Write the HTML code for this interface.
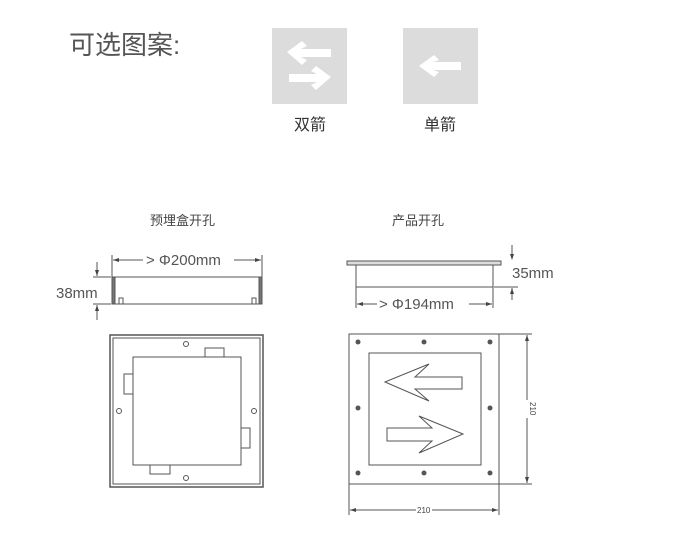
<!DOCTYPE html>
<html><head><meta charset="utf-8"><style>
body{margin:0;background:#fff;}
svg{display:block;font-family:"Liberation Sans","Noto Sans CJK SC",sans-serif;}
</style></head><body>
<svg width="683" height="557" viewBox="0 0 683 557">
<text x="69" y="54" font-size="26" fill="#555">可选图案:</text>
<rect x="272" y="28" width="75" height="76" fill="#dcdcdc"/>
<rect x="403" y="28" width="75" height="76" fill="#dcdcdc"/>
<g fill="#fff">
<polygon points="287,52 302,41 307,46 301,49 331,49 331,57 301,57 307,60 302,65"/>
<polygon points="331,77 316,66 311,71 317,74 289,74 289,82 317,82 311,85 316,90"/>
<polygon points="419,66 434,55 439,60 433,62 461,62 461,70 433,70 439,72 434,77"/>
</g>
<text x="294" y="130" font-size="16" fill="#333">双箭</text>
<text x="424" y="130" font-size="16" fill="#333">单箭</text>
<text x="150" y="225" font-size="13" fill="#444">预埋盒开孔</text>
<text x="392" y="225" font-size="13" fill="#444">产品开孔</text>
<g stroke="#555" fill="none" stroke-width="1">
<line x1="112" y1="255" x2="112" y2="277"/><line x1="262" y1="255" x2="262" y2="277"/>
<line x1="113" y1="260" x2="143" y2="260"/><line x1="234" y1="260" x2="261" y2="260"/>
<line x1="112" y1="277" x2="262" y2="277"/>
<line x1="112" y1="304" x2="262" y2="304"/>
<rect x="112" y="277" width="3" height="27" fill="#777"/>
<rect x="259" y="277" width="3" height="27" fill="#777"/>
<rect x="119" y="298" width="4" height="6"/><rect x="252" y="298" width="4" height="6"/>
<line x1="93" y1="277" x2="111" y2="277"/><line x1="93" y1="304" x2="111" y2="304"/>
<line x1="97" y1="262" x2="97" y2="276"/><line x1="97" y1="305" x2="97" y2="320"/>
<rect x="110" y="335" width="153" height="152" stroke-width="1.5"/>
<rect x="113" y="338" width="147" height="146"/>
<rect x="133" y="357" width="108" height="108"/>
<rect x="205" y="348" width="19" height="9"/>
<rect x="124" y="374" width="9" height="20"/>
<rect x="241" y="428" width="9" height="20"/>
<rect x="150" y="465" width="20" height="9"/>
<rect x="347" y="261" width="154" height="4" fill="#ddd"/>
<rect x="356" y="265" width="137" height="22"/>
<line x1="356" y1="287" x2="356" y2="308"/><line x1="493" y1="287" x2="493" y2="308"/>
<line x1="357" y1="304" x2="377" y2="304"/><line x1="469" y1="304" x2="492" y2="304"/>
<line x1="494" y1="287" x2="518" y2="287"/>
<line x1="512" y1="245" x2="512" y2="259"/><line x1="512" y1="288" x2="512" y2="300"/>
<rect x="349" y="334" width="150" height="150"/>
<rect x="369" y="353" width="112" height="112"/>
<polygon points="385,382 429,364 415,377 462,377 462,389 415,389 429,401"/>
<polygon points="463,434 419,416 432,428 387,428 387,441 432,441 419,453"/>
<line x1="499" y1="334" x2="532" y2="334"/><line x1="499" y1="484" x2="532" y2="484"/>
<line x1="527" y1="335" x2="527" y2="400"/><line x1="527" y1="418" x2="527" y2="483"/>
<line x1="349" y1="484" x2="349" y2="515"/><line x1="499" y1="484" x2="499" y2="515"/>
<line x1="350" y1="510" x2="416" y2="510"/><line x1="432" y1="510" x2="498" y2="510"/>
</g>
<g fill="#444">
<polygon points="113,260 119,258 119,262"/><polygon points="261,260 255,258 255,262"/>
<polygon points="97,276 95,270 99,270"/><polygon points="97,305 95,311 99,311"/>
<polygon points="357,304 363,302 363,306"/><polygon points="492,304 486,302 486,306"/>
<polygon points="512,260 510,254 514,254"/><polygon points="512,288 510,294 514,294"/>
<polygon points="527,335 525,341 529,341"/><polygon points="527,483 525,477 529,477"/>
<polygon points="350,510 356,508 356,512"/><polygon points="498,510 492,508 492,512"/>
</g>
<g fill="#fff" stroke="#555">
<circle cx="186" cy="344" r="2.5"/><circle cx="119" cy="411" r="2.5"/><circle cx="254" cy="411" r="2.5"/><circle cx="186" cy="478" r="2.5"/>
</g>
<g fill="#555">
<circle cx="358" cy="342" r="2.5"/><circle cx="424" cy="342" r="2.5"/><circle cx="490" cy="342" r="2.5"/>
<circle cx="358" cy="408" r="2.5"/><circle cx="490" cy="408" r="2.5"/>
<circle cx="358" cy="473" r="2.5"/><circle cx="424" cy="473" r="2.5"/><circle cx="490" cy="473" r="2.5"/>
</g>
<text x="146" y="265" font-size="15" fill="#555">&gt; Φ200mm</text>
<text x="56" y="298" font-size="15" fill="#555">38mm</text>
<text x="379" y="309" font-size="15" fill="#555">&gt; Φ194mm</text>
<text x="512" y="278" font-size="15" fill="#555">35mm</text>
<text x="417" y="513" font-size="8" fill="#444">210</text>
<text transform="translate(530,402) rotate(90)" font-size="8" fill="#444">210</text>
</svg>
</body></html>
